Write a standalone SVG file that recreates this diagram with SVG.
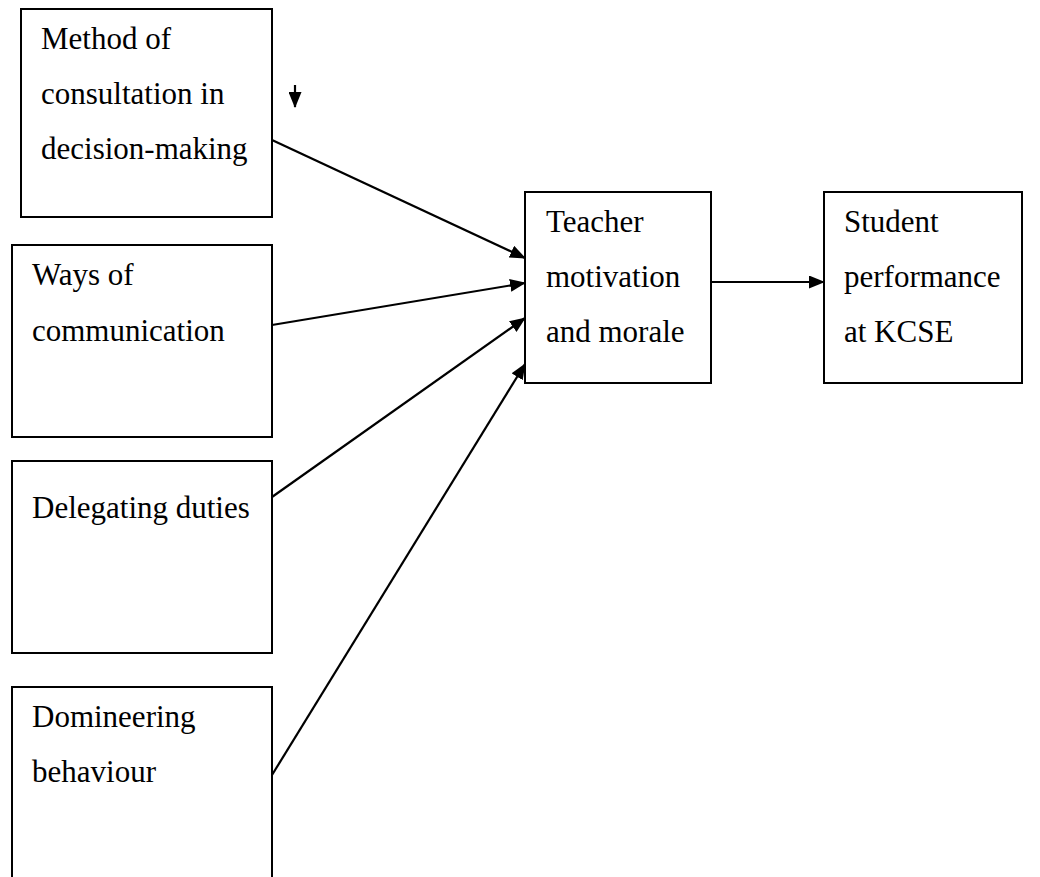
<svg xmlns="http://www.w3.org/2000/svg" width="1040" height="877" viewBox="0 0 1040 877">
<style>
.box{fill:#fff;stroke:#000;stroke-width:2}
.t{font-family:"Liberation Serif","Times New Roman",serif;font-size:31px;fill:#000}
.c{stroke:#000;stroke-width:2.2;fill:none;marker-end:url(#ah)}
</style>
<defs>
<marker id="ah" markerWidth="16" markerHeight="13" refX="15" refY="6.5" orient="auto" markerUnits="userSpaceOnUse">
<path d="M0,0 L16,6.5 L0,13 Z" fill="#000"/>
</marker>
</defs>
<rect width="1040" height="877" fill="#fff"/>
<g id="n1"><rect class="box" x="21" y="9" width="251" height="208"/>
<text class="t" x="41" y="49">Method of</text>
<text class="t" x="41" y="104">consultation in</text>
<text class="t" x="41" y="159">decision-making</text></g>
<g id="n2"><rect class="box" x="12" y="245" width="260" height="192"/>
<text class="t" x="32" y="285">Ways of</text>
<text class="t" x="32" y="341">communication</text></g>
<g id="n3"><rect class="box" x="12" y="461" width="260" height="192"/>
<text class="t" x="32" y="518">Delegating duties</text></g>
<g id="n4"><rect class="box" x="12" y="687" width="260" height="200"/>
<text class="t" x="32" y="727">Domineering</text>
<text class="t" x="32" y="782">behaviour</text></g>
<g id="n5"><rect class="box" x="525" y="192" width="186" height="191"/>
<text class="t" x="546" y="232">Teacher</text>
<text class="t" x="546" y="287">motivation</text>
<text class="t" x="546" y="342">and morale</text></g>
<g id="n6"><rect class="box" x="824" y="192" width="198" height="191"/>
<text class="t" x="844" y="232">Student</text>
<text class="t" x="844" y="287">performance</text>
<text class="t" x="844" y="342">at KCSE</text></g>
<g id="connectors">
<line class="c" x1="272" y1="140" x2="525" y2="258"/>
<line class="c" x1="272" y1="325" x2="525" y2="283"/>
<line class="c" x1="272" y1="497" x2="525" y2="318"/>
<line class="c" x1="272" y1="775" x2="525" y2="364"/>
<line class="c" x1="711" y1="282" x2="824" y2="282"/>
<line class="c" x1="295" y1="85" x2="295" y2="107"/>
</g>
</svg>
